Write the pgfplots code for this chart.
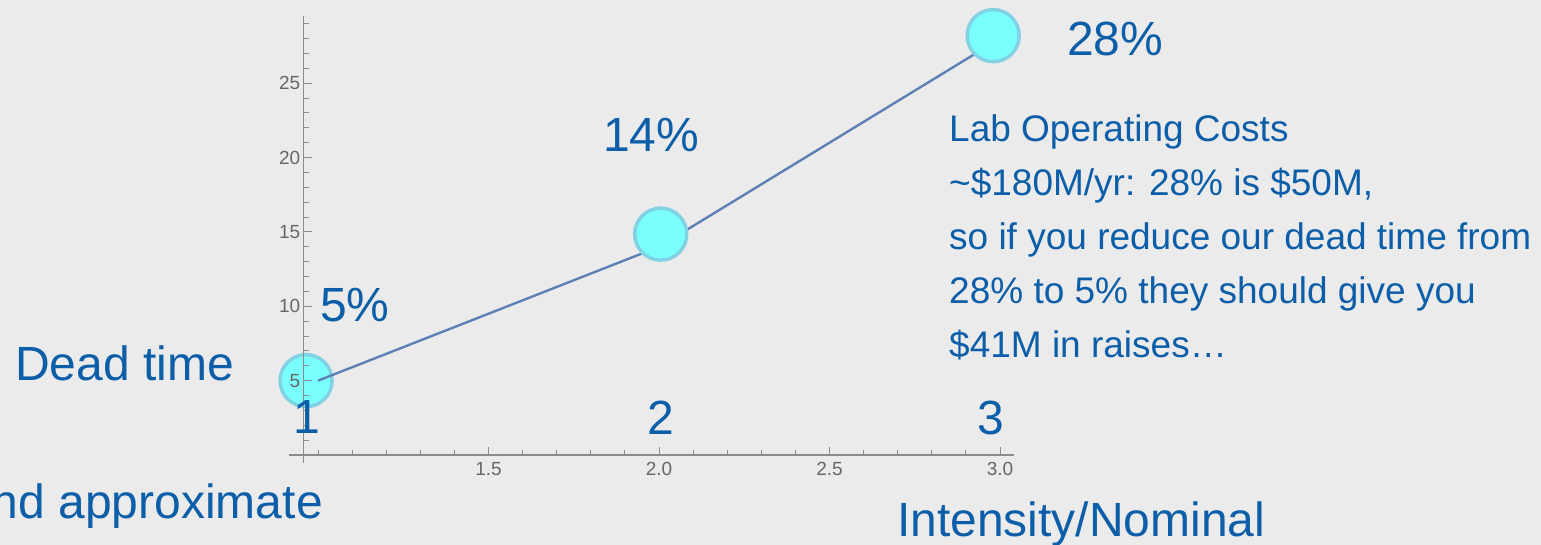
\documentclass[border=0pt]{standalone}
\usepackage{fontspec}
\setmainfont{Liberation Sans}
\usepackage{pgfplots}
\pgfplotsset{compat=1.18}
\definecolor{bg}{RGB}{235,235,235}
\definecolor{txt}{RGB}{12,94,168}
\definecolor{ln}{RGB}{94,129,181}
\definecolor{cfill}{RGB}{122,255,255}
\definecolor{cedge}{RGB}{128,210,228}
\definecolor{tk}{RGB}{102,102,102}
\definecolor{ax}{RGB}{140,140,140}
\pgfplotsset{frame/.style={
  at={(303.7pt,90pt)}, anchor=south west, scale only axis,
  width=710.3pt, height=438.7pt,
  xmin=0.958, xmax=3.041, ymin=0, ymax=29.5, clip=false}}
\begin{document}
\begin{tikzpicture}[x=1pt,y=1pt]
\path[use as bounding box] (0,0) rectangle (1541,545);
\clip (0,0) rectangle (1541,545);
\fill[bg] (0,0) rectangle (1541,545);
\begin{axis}[frame, hide axis]
\addplot[only marks, mark=*, mark size=26pt, mark options={fill=cfill, draw=cedge, line width=3.5pt}] coordinates {(0.965,5.0)};
\end{axis}
\begin{axis}[
  frame,
  axis x line=bottom, axis y line=left,
  axis line style={-, draw=ax, line width=1.2pt},
  xtick={1.5,2,2.5,3}, xticklabels={1.5,2.0,2.5,3.0},
  minor xtick={1.0,1.1,1.2,1.3,1.4,1.6,1.7,1.8,1.9,2.1,2.2,2.3,2.4,2.6,2.7,2.8,2.9},
  ytick={5,10,15,20,25},
  minor ytick={1,2,3,4,6,7,8,9,11,12,13,14,16,17,18,19,21,22,23,24,26,27,28,29},
  tick align=inside,
  major tick length=8pt, minor tick length=5pt,
  tick style={draw=ax, line width=1pt},
  ticklabel style={font=\fontsize{19}{19}\selectfont, text=tk},
  /pgf/number format/assume math mode=true,
  xticklabel style={yshift=-4pt},
]
\addplot[ln, line width=2.4pt, mark=none] coordinates {(1,5) (2,14) (3,28)};
\addplot[only marks, mark=*, mark size=26pt, mark options={fill=cfill, draw=cedge, line width=3.5pt}] coordinates {(2.005,14.85) (2.98,28.2)};
\draw[ax, line width=1.2pt] (axis cs:0.915,0) -- (axis cs:0.958,0);
\draw[ax, line width=1.2pt] (axis cs:0.958,0) -- (axis cs:0.958,-0.54);
\end{axis}
\begin{scope}[every node/.style={inner sep=0pt, text=txt}]
\node[anchor=base west, font=\fontsize{48}{48}\selectfont] at (15,164) {Dead time};
\node[anchor=base east, font=\fontsize{48}{48}\selectfont] at (323,26) {nd approximate};
\node[anchor=base west, font=\fontsize{48}{48}\selectfont] at (897,8) {Intensity/Nominal};
\node[anchor=base, font=\fontsize{48}{48}\selectfont] at (307,111) {1};
\node[anchor=base, font=\fontsize{48}{48}\selectfont] at (660.5,110) {2};
\node[anchor=base, font=\fontsize{48}{48}\selectfont] at (990.8,110) {3};
\node[anchor=base west, font=\fontsize{48}{48}\selectfont] at (320,223) {5\%};
\node[anchor=base west, font=\fontsize{48}{48}\selectfont] at (603,393) {14\%};
\node[anchor=base west, font=\fontsize{48}{48}\selectfont] at (1067,489) {28\%};
\node[anchor=base west, font=\fontsize{37}{37}\selectfont] at (949,403) {Lab Operating Costs};
\node[anchor=base west, font=\fontsize{37}{37}\selectfont] at (949,349) {\textasciitilde\$180M/yr: 28\% is \$50M,};
\node[anchor=base west, font=\fontsize{37}{37}\selectfont] at (949,295) {so if you reduce our dead time from};
\node[anchor=base west, font=\fontsize{37}{37}\selectfont] at (949,241) {28\% to 5\% they should give you};
\node[anchor=base west, font=\fontsize{37}{37}\selectfont] at (949,187) {\$41M in raises…};
\end{scope}
\end{tikzpicture}
\end{document}
